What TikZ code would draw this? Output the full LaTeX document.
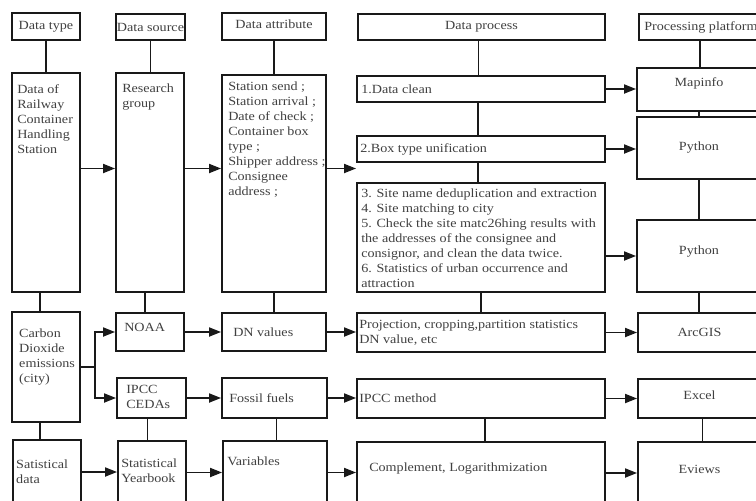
\documentclass[tikz,border=0pt]{standalone}
\usepackage{fontspec}
\setmainfont{Liberation Serif}[FakeStretch=1.13]
\usetikzlibrary{arrows.meta,fit,positioning}

\begin{document}
\begin{tikzpicture}[x=1pt,y=-1pt,>={Triangle[length=12pt,width=9pt]}]
\tikzstyle{box node}=[rectangle,draw=black!90,inner sep=0,line width=1.9pt]
\tikzstyle{text node}=[inner sep=0,align=left,text=black!75,font=\fontsize{12.5}{15}\selectfont]

\tikzset{
	stub/.style={draw=black!90,line width=1.9pt},
	flow/.style={->,draw=black!90,line width=1.9pt}
}

\useasboundingbox (0,0) rectangle (756,501);
\clip (0,0) rectangle (756,501);

% header row
      \node[box node,fit={(12,13) (80,40)}] (htype) {};
      \node[box node,fit={(116,14) (185,40)}] (hsrc) {};
      \node[box node,fit={(222,13) (326,40)}] (hattr) {};
      \node[box node,fit={(358,14) (605,40)}] (hproc) {};
      \node[box node,fit={(639,14) (761,40)}] (hplat) {};

% data type / data source / data attribute columns
      \node[box node,fit={(12,73) (80,292)}] (rail) {};
      \node[box node,fit={(12,312) (80,422)}] (carbon) {};
      \node[box node,fit={(13,440) (81,504)}] (stat) {};
      \node[box node,fit={(116,73) (184,292)}] (research) {};
      \node[box node,fit={(116,313) (184,351)}] (noaa) {};
      \node[box node,fit={(117,378) (186,418)}] (cedas) {};
      \node[box node,fit={(118,441) (186,504)}] (yearbook) {};
      \node[box node,fit={(222,75) (326,292)}] (attr) {};
      \node[box node,fit={(222,313) (326,351)}] (dn) {};
      \node[box node,fit={(222,378) (327,418)}] (fossil) {};
      \node[box node,fit={(223,441) (327,504)}] (variables) {};

% data process / platform columns
      \node[box node,fit={(357,76) (605,102)}] (clean) {};
      \node[box node,fit={(357,136) (605,162)}] (unify) {};
      \node[box node,fit={(357,183) (605,292)}] (steps) {};
      \node[box node,fit={(357,313) (605,352)}] (proj) {};
      \node[box node,fit={(357,379) (605,418)}] (ipccm) {};
      \node[box node,fit={(357,442) (605,504)}] (compl) {};
      \node[box node,fit={(637,68) (761,111)}] (mapinfo) {};
      \node[box node,fit={(637,117) (761,179)}] (python1) {};
      \node[box node,fit={(637,220) (761,292)}] (python2) {};
      \node[box node,fit={(638,313) (761,352)}] (arcgis) {};
      \node[box node,fit={(638,379) (761,418)}] (excel) {};
      \node[box node,fit={(638,442) (761,504)}] (eviews) {};

% texts
      \node[text node] at (htype) {Data type};
      \node[text node] at (hsrc) {Data source};
      \node[text node] at ([yshift=2pt]hattr) {Data attribute};
      \node[text node] at (hproc) {Data process};
      \node[text node,anchor=west] at ([xshift=6pt]hplat.west) {Processing platform};

      \node[text node,anchor=north west] at ([shift={(6,12)}]rail.north west) {Data of\\Railway\\Container\\Handling\\Station};
      \node[text node,anchor=north west] at ([shift={(8,18)}]carbon.north west) {Carbon\\Dioxide\\emissions\\(city)};
      \node[text node,anchor=west] at ([xshift=4pt]stat.west) {Satistical\\data};
      \node[text node,anchor=north west] at ([shift={(7,12)}]research.north west) {Research\\group};
      \node[text node,anchor=north west] at ([shift={(9,11)}]noaa.north west) {NOAA};
      \node[text node,anchor=west] at ([xshift=10pt,yshift=1pt]cedas.west) {IPCC\\CEDAs};
      \node[text node,anchor=west] at ([xshift=4pt,yshift=2pt]yearbook.west) {Statistical\\Yearbook};
      \node[text node,anchor=north west] at ([shift={(7,8)}]attr.north west) {Station send ;\\Station arrival ;\\Date of check ;\\Container box\\type ;\\Shipper address ;\\Consignee\\address ;};
      \node[text node,anchor=west] at ([xshift=12pt]dn.west) {DN values};
      \node[text node,anchor=west] at ([xshift=8pt]fossil.west) {Fossil fuels};
      \node[text node,anchor=north west] at ([shift={(5,17)}]variables.north west) {Variables};

      \node[text node,anchor=west] at ([xshift=5pt]clean.west) {1.Data clean};
      \node[text node,anchor=west] at ([xshift=4pt]unify.west) {2.Box type unification};
      \node[text node,anchor=north west] at ([shift={(5,7)}]steps.north west) {3. Site name deduplication and extraction\\4. Site matching to city\\5. Check the site matc26hing results with\\the addresses of the consignee and\\consignor, and clean the data twice.\\6. Statistics of urban occurrence and\\attraction};
      \node[text node,anchor=west] at ([xshift=3pt]proj.west) {Projection, cropping,partition statistics\\DN value, etc};
      \node[text node,anchor=west] at ([xshift=3pt]ipccm.west) {IPCC method};
      \node[text node,anchor=west] at ([xshift=13pt,yshift=4pt]compl.west) {Complement, Logarithmization};

      \node[text node] at ([yshift=6pt]mapinfo) {Mapinfo};
      \node[text node] at (python1) {Python};
      \node[text node] at ([yshift=4pt]python2) {Python};
      \node[text node] at (arcgis) {ArcGIS};
      \node[text node] at ([yshift=3pt]excel) {Excel};
      \node[text node] at ([yshift=4pt]eviews) {Eviews};

% vertical links
    \draw[stub] (htype.south) -- (htype.south |- rail.north);
    \draw[stub] ([xshift=-6pt]rail.south) -- ([xshift=-6pt]rail.south |- carbon.north);
    \draw[stub] ([xshift=-6pt]carbon.south) -- ([xshift=-6pt]carbon.south |- stat.north);
    \draw[stub] (hsrc.south) -- (hsrc.south |- research.north);
    \draw[stub] ([xshift=-5pt]research.south) -- ([xshift=-5pt]research.south |- noaa.north);
    \draw[stub] ([xshift=-4pt]cedas.south) -- ([xshift=-4pt]cedas.south |- yearbook.north);
    \draw[stub] (hattr.south) -- (hattr.south |- attr.north);
    \draw[stub] (attr.south) -- (attr.south |- dn.north);
    \draw[stub] ([xshift=2pt]fossil.south) -- ([xshift=2pt]fossil.south |- variables.north);
    \draw[stub] ([xshift=-3pt]hproc.south) -- ([xshift=-3pt]hproc.south |- clean.north);
    \draw[stub] ([xshift=-3pt]clean.south) -- ([xshift=-3pt]clean.south |- unify.north);
    \draw[stub] ([xshift=-3pt]unify.south) -- ([xshift=-3pt]unify.south |- steps.north);
    \draw[stub] (steps.south) -- (steps.south |- proj.north);
    \draw[stub] ([xshift=4pt]ipccm.south) -- ([xshift=4pt]ipccm.south |- compl.north);
    \draw[stub] (hplat.south) -- (hplat.south |- mapinfo.north);
    \draw[stub] (mapinfo.south) -- (mapinfo.south |- python1.north);
    \draw[stub] (python1.south) -- (python1.south |- python2.north);
    \draw[stub] (python2.south) -- (python2.south |- arcgis.north);
    \draw[stub] ([xshift=3pt]excel.south) -- ([xshift=3pt]excel.south |- eviews.north);

% arrows
    \draw[flow] ([yshift=14pt]rail.east) -- ([yshift=14pt]rail.east -| research.west);
    \draw[flow] ([yshift=14pt]research.east) -- ([yshift=14pt]research.east -| attr.west);
    \draw[flow] ([yshift=15pt]attr.east) -- ([yshift=15pt]attr.east -| clean.west);
    \draw[flow] (clean.east) -- (clean.east -| mapinfo.west);
    \draw[flow] (unify.east) -- (unify.east -| python1.west);
    \draw[flow] (steps.east |- python2) -- (python2.west);
    \draw[flow] (proj.east) -- (proj.east -| arcgis.west);
    \draw[flow] (ipccm.east) -- (ipccm.east -| excel.west);
    \draw[flow] (compl.east) -- (compl.east -| eviews.west);

    \draw[stub] (carbon.east) -- ++(14,0) coordinate (fork);
    \draw[flow] (fork) |- (noaa.west);
    \draw[flow] (fork) |- (cedas.west);
    \draw[flow] (noaa.east) -- (noaa.east -| dn.west);
    \draw[flow] (dn.east) -- (dn.east -| proj.west);
    \draw[flow] (cedas.east) -- (cedas.east -| fossil.west);
    \draw[flow] (fossil.east) -- (fossil.east -| ipccm.west);
    \draw[flow] (stat.east) -- (stat.east -| yearbook.west);
    \draw[flow] (yearbook.east) -- (yearbook.east -| variables.west);
    \draw[flow] (variables.east) -- (variables.east -| compl.west);
\end{tikzpicture}
\end{document}
